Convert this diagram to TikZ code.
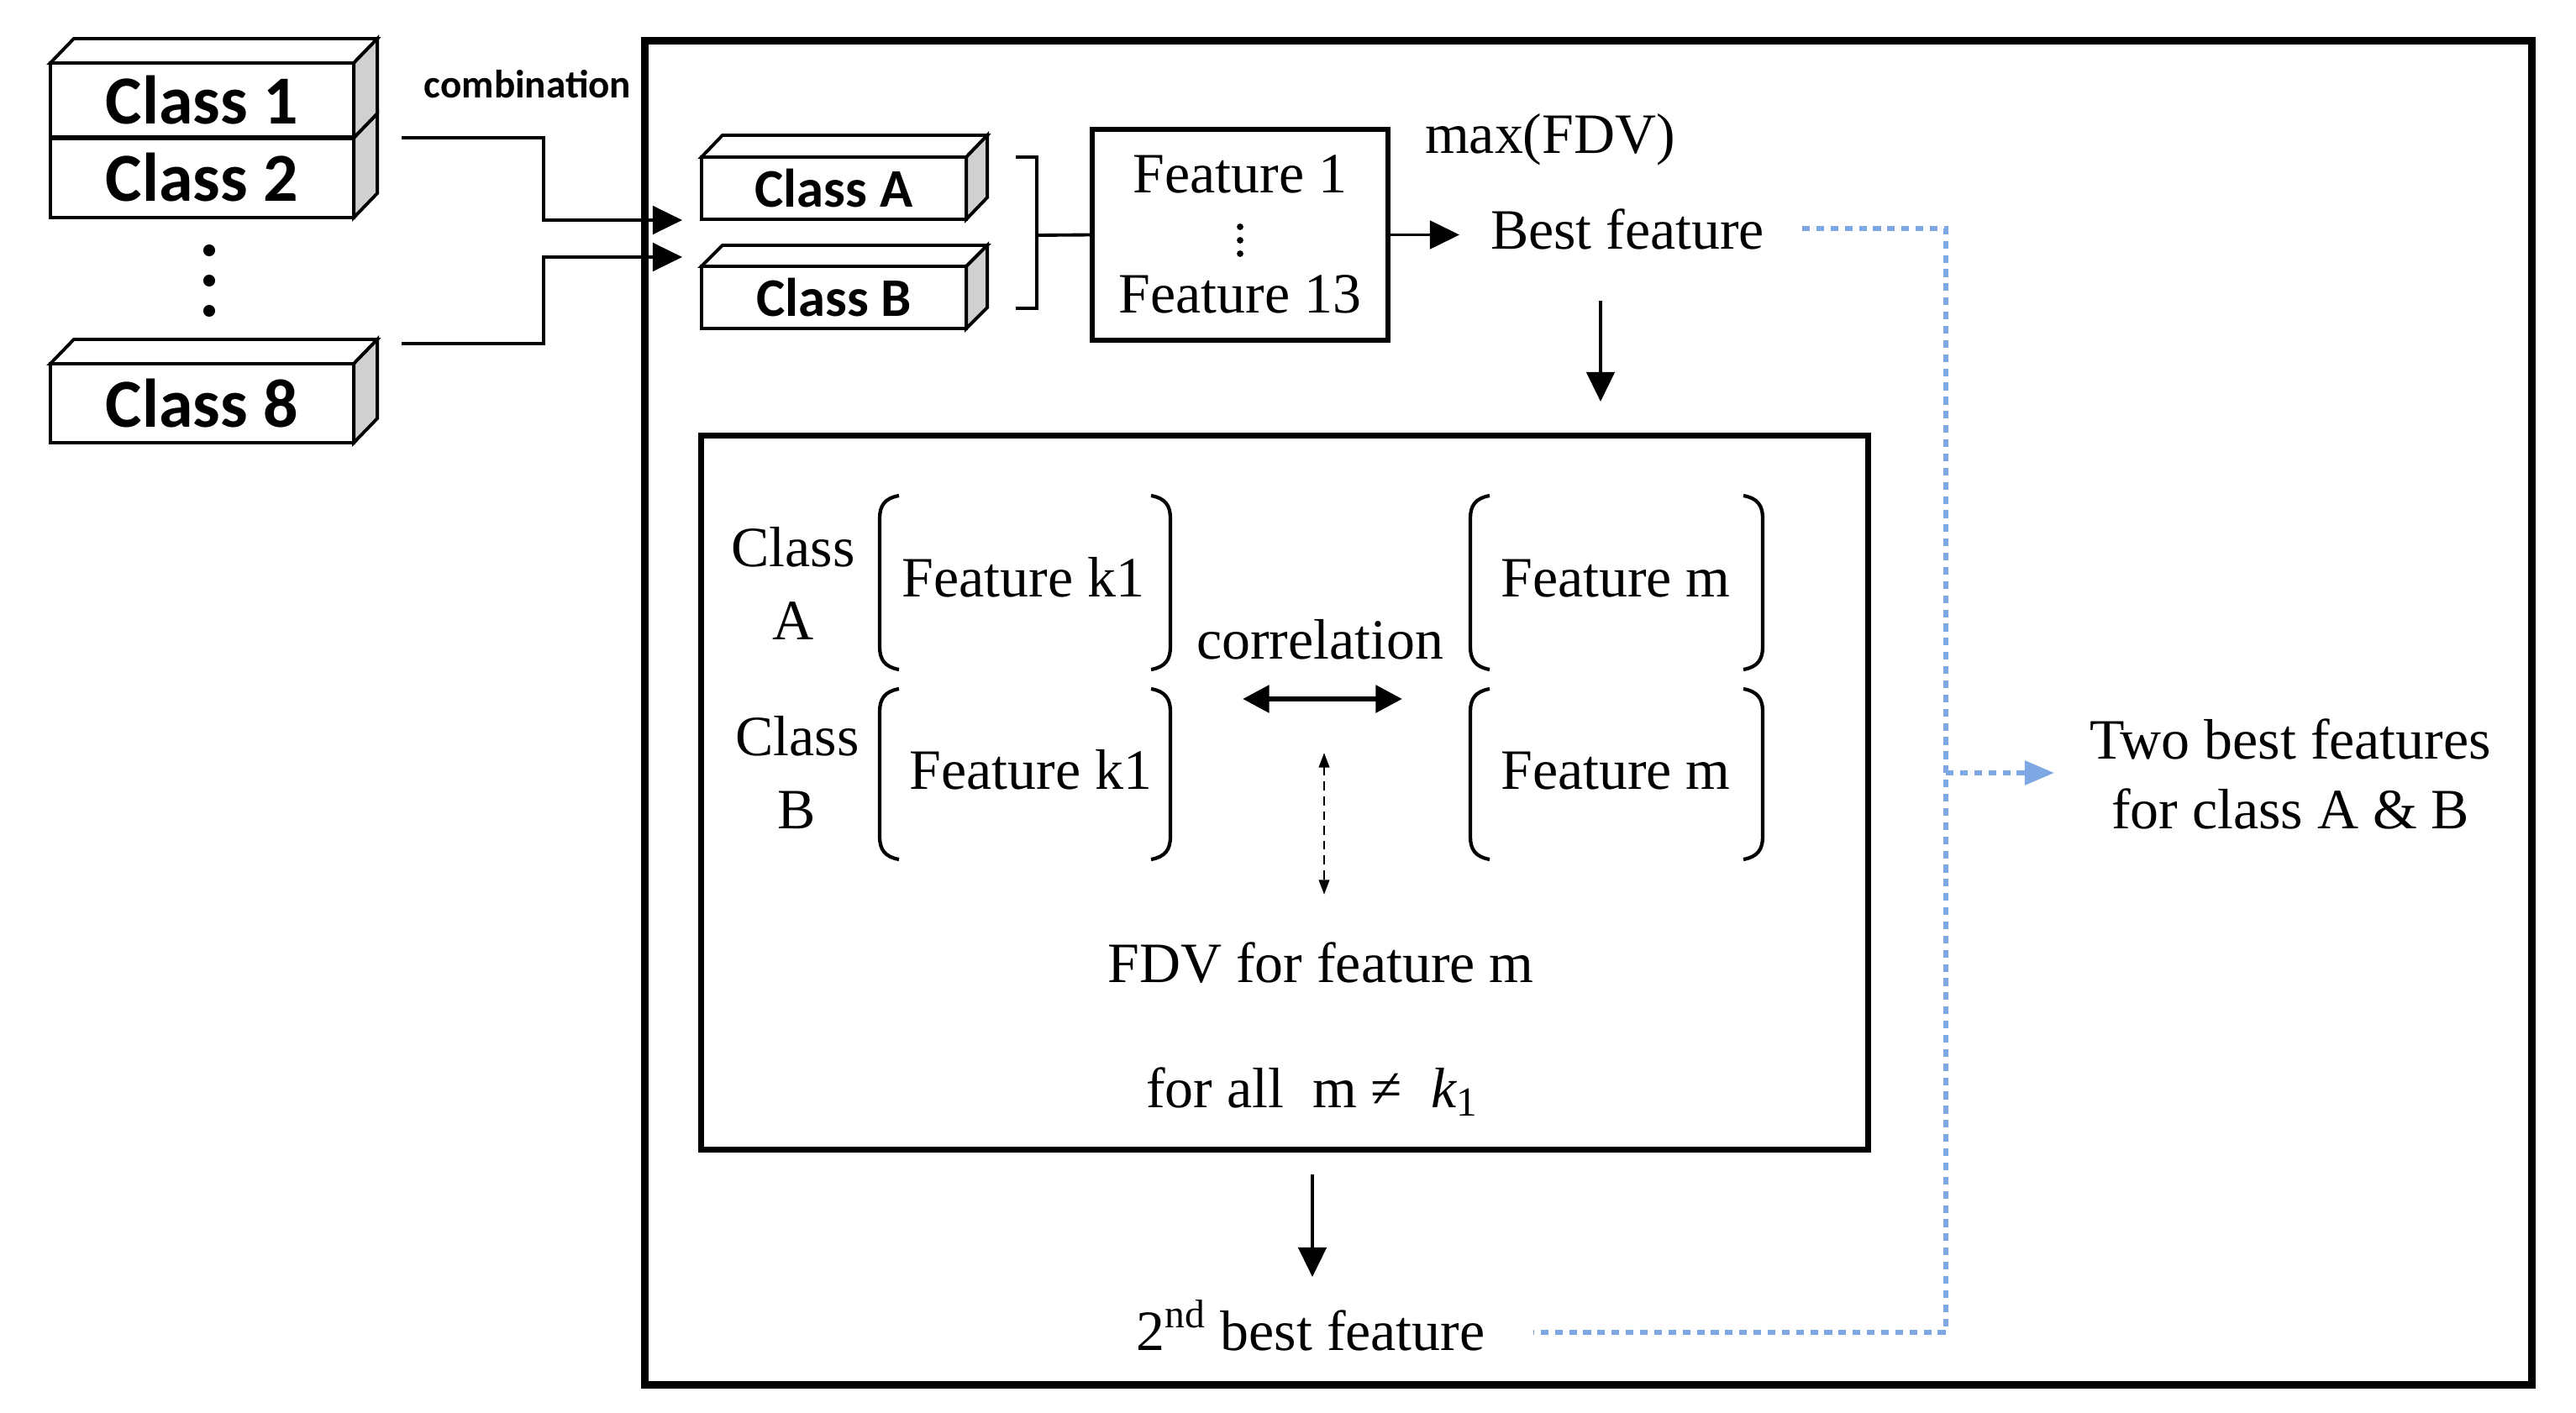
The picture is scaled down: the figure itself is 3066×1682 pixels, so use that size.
\documentclass[tikz,border=0pt]{standalone}
\usepackage{fontspec}
\setmainfont{Liberation Serif}
\newfontfamily\calfont{Carlito}
\usetikzlibrary{arrows.meta,calc}
\definecolor{lblue}{RGB}{125,168,228}
\definecolor{sidegray}{RGB}{208,208,208}
\tikzset{
  edge/.style={line width=1.1pt, line join=miter},
  classbox/.style={draw, edge, fill=white, inner sep=0pt, outer sep=0pt,
    font=\calfont\bfseries\fontsize{23.3}{28}\selectfont},
  smallbox/.style={classbox, font=\calfont\bfseries\fontsize{18.4}{22}\selectfont},
  txt/.style={inner sep=0pt, outer sep=0pt, font=\fontsize{19.3}{23}\selectfont, anchor=base},
  frame/.style={draw, line width=2.4pt, inner sep=0pt, outer sep=0pt},
  conn/.style={line width=1.1pt, -{Triangle[length=10pt,width=9.5pt]}},
  corr/.style={line width=1.9pt, {Triangle[length=9pt,width=9pt]}-{Triangle[length=9pt,width=9pt]}},
  dashconn/.style={line width=0.8pt, dash pattern=on 3pt off 2pt,
    {Triangle[length=5pt,width=3.5pt]}-{Triangle[length=5pt,width=3.5pt]}},
  paren/.style={line width=1.2pt},
  bluedot/.style={draw=lblue, line width=1.6pt, dash pattern=on 2.6pt off 2.2pt},
}
\newcommand\cubefaces[3]{%
  \draw[edge,fill=white] (#1.north west) -- ++(#2,-#3) -- ($(#1.north east)+(#2,-#3)$) -- (#1.north east) -- cycle;
  \draw[edge,fill=sidegray] (#1.north east) -- ++(#2,-#3) -- ($(#1.south east)+(#2,-#3)$) -- (#1.south east) -- cycle;}
\newcommand\cubeside[3]{%
  \draw[edge,fill=sidegray] (#1.north east) -- ++(#2,-#3) -- ($(#1.south east)+(#2,-#3)$) -- (#1.south east) -- cycle;}
\newcommand\lparen[3]{%
  \draw[paren] (#1+23,#2) .. controls (#1+6,#2+3) and (#1,#2+12) .. (#1,#2+27) -- (#1,#3-27) .. controls (#1,#3-12) and (#1+6,#3-3) .. (#1+23,#3);}
\newcommand\rparen[3]{%
  \draw[paren] (#1-23,#2) .. controls (#1-6,#2+3) and (#1,#2+12) .. (#1,#2+27) -- (#1,#3-27) .. controls (#1,#3-12) and (#1-6,#3-3) .. (#1-23,#3);}
\begin{document}
\begin{tikzpicture}[x=0.01cm,y=-0.01cm]
\useasboundingbox (0,0) rectangle (3066,1682);

% frames
\node[frame, minimum width=22.45cm, minimum height=15.99cm] (outer) at (1890.5,848.5) {};
\node[frame, line width=1.9pt, minimum width=13.88cm, minimum height=8.49cm] (inner) at (1529,943.5) {};
\node[frame, line width=1.9pt, minimum width=3.52cm, minimum height=2.51cm] (feat) at (1476,279.5) {};

% class stack
\node[classbox, minimum width=3.61cm, minimum height=0.95cm] (c2) at (240.5,211.5) {Class 2};
\cubeside{c2}{28}{29}
\node[classbox, minimum width=3.61cm, minimum height=0.89cm] (c1) at (240.5,119.5) {Class 1};
\cubefaces{c1}{28}{29}
\draw[line width=1.8pt] (c1.south west) -- (c1.south east);
\node[classbox, minimum width=3.61cm, minimum height=0.94cm] (c8) at (240.5,480) {Class 8};
\cubefaces{c8}{28}{29}
\foreach \yy in {298,334,370} \fill (249,\yy) circle[radius=2pt];

\node[inner sep=0pt, anchor=base, font=\calfont\bfseries\fontsize{13.4}{16}\selectfont] (comb) at (628,117) {combination};

\coordinate (s1) at (478,164); \coordinate (e1) at (812,262);
\coordinate (s2) at (478,409); \coordinate (e2) at (812,306);
\draw[conn] (s1) -- ++(169,0) |- (e1);
\draw[conn] (s2) -- ++(169,0) |- (e2);

% class A / B
\node[smallbox, minimum width=3.15cm, minimum height=0.74cm] (ca) at (992.5,224) {Class A};
\cubefaces{ca}{25}{26}
\node[smallbox, minimum width=3.15cm, minimum height=0.74cm] (cb) at (992.5,354) {Class B};
\cubefaces{cb}{25}{25}
\coordinate (brk) at (1234,280);
\draw[edge] (1209,187) -- (1234,187) -- (1234,367) -- (1209,367);
\draw[edge] (brk) -- (feat.west);

% feature box content
\node[txt] (f1) at (1476,230) {Feature 1};
\foreach \yy in {270,286,302} \fill (1476,\yy) circle[radius=1.1pt];
\node[txt] (f13) at (1476,372) {Feature 13};

\node[txt] (maxfdv) at (1845,183) {max(FDV)};
\node[txt] (best) at (1937,297) {Best feature};
\draw[conn] (feat.east) -- ++(85,0);
\coordinate (d1s) at (1905,358); \coordinate (d1e) at (1905,478);
\draw[conn] (d1s) -- (d1e);

% inner content
\node[txt] (cla1) at (944,674) {Class};
\node[txt] (cla2) at (944,761) {A};
\node[txt] (clb1) at (949,899) {Class};
\node[txt] (clb2) at (948,986) {B};
\lparen{1047}{590}{797}
\rparen{1393}{590}{797}
\lparen{1047}{820}{1023}
\rparen{1393}{820}{1023}
\lparen{1750}{590}{797}
\rparen{2098}{590}{797}
\lparen{1750}{820}{1023}
\rparen{2098}{820}{1023}
\node[txt] (fka) at (1218,710) {Feature k1};
\node[txt] (fma) at (1923,710) {Feature m};
\node[txt] (fkb) at (1227,939) {Feature k1};
\node[txt] (fmb) at (1923,939) {Feature m};
\node[txt] (corrl) at (1571,784) {correlation};
\coordinate (cl) at (1479,832); \coordinate (cr) at (1669,832);
\draw[corr] (cl) -- (cr);
\coordinate (vt) at (1576,896); \coordinate (vb) at (1576,1065);
\draw[dashconn] (vt) -- (vb);
\node[txt] (fdv) at (1572,1169) {FDV for feature m};
\node[txt] (forall) at (1561,1318) {for all\ \ m ≠\ \ {\itshape k}\raisebox{-0.35ex}{\fontsize{14}{14}\selectfont 1}};

% second best
\coordinate (d2s) at (1562,1398); \coordinate (d2e) at (1562,1520);
\draw[conn] (d2s) -- (d2e);
\node[txt] (second) at (1560,1607) {2\textsuperscript{nd} best feature};

% blue dotted
\coordinate (bs) at (2145,272); \coordinate (bc1) at (2316,272);
\coordinate (bc2) at (2316,1586); \coordinate (be) at (1825,1586);
\draw[bluedot] (bs) -- (bc1) -- (bc2) -- (be);
\coordinate (bm) at (2316,920); \coordinate (bt) at (2445,920);
\draw[bluedot, -{Triangle[length=10pt,width=8pt]}, lblue] (bm) -- (bt);
\node[txt] (two1) at (2726,903) {Two best features};
\node[txt] (two2) at (2726,986) {for class A \& B};
\end{tikzpicture}
\end{document}
